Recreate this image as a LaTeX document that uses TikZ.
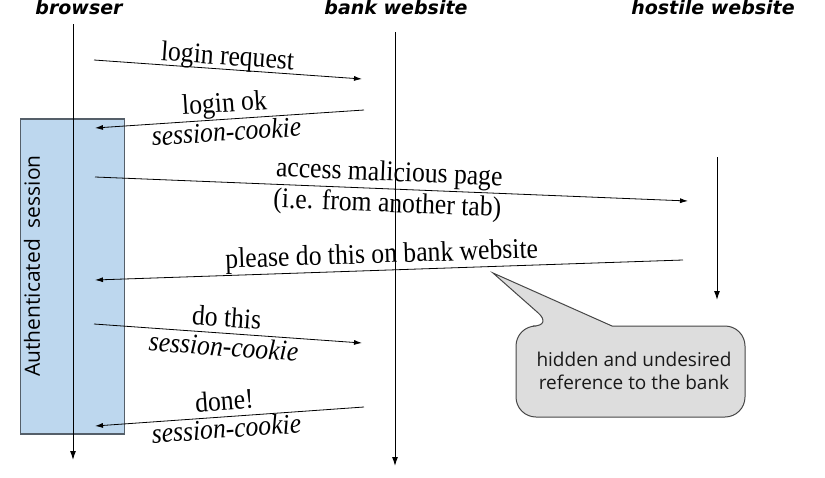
\documentclass[tikz,border=0pt]{standalone}
\usepackage{fontspec}
\setmainfont{Liberation Serif}
\newfontfamily\headfont{DejaVu Sans}
\newfontfamily\notefont{Open Sans}
\newfontfamily\msgfont[FakeStretch=0.9]{Liberation Serif}
\usetikzlibrary{arrows.meta}

\definecolor{sessionfill}{RGB}{189,215,238}
\definecolor{sessionedge}{RGB}{85,95,105}
\definecolor{notefill}{RGB}{221,221,221}
\definecolor{noteedge}{RGB}{70,70,70}

\begin{document}
\begin{tikzpicture}[x=1pt,y=-1pt,
  lifeline/.style={line width=1pt,-{Latex[length=9pt,width=6pt]}},
  msg/.style={line width=0.8pt,-{Latex[length=8pt,width=5pt]}},
  actor/.style={font={\headfont\bfseries\itshape\fontsize{19}{23}\selectfont},anchor=base,inner sep=0pt},
  lbl/.style={font={\msgfont\fontsize{28.5}{32}\selectfont},anchor=base,inner sep=0pt},
  lbli/.style={font={\msgfont\fontsize{28.5}{32}\selectfont\itshape},anchor=base,inner sep=0pt},
  sessionbox/.style={draw=sessionedge,line width=1.2pt,fill=sessionfill,inner sep=0pt,
    minimum width=104pt,minimum height=315pt},
  callout/.style={draw=noteedge,line width=1pt,fill=notefill},
  notetext/.style={font={\notefont\fontsize{19}{23.5}\selectfont},text=black!90,align=center,inner sep=0pt}]
\useasboundingbox (0,0) rectangle (825,477);

% authenticated session span on the browser side
\node[sessionbox] (auth) at (72.5,276.5) {};
\node[font={\notefont\fontsize{21}{24}\selectfont},rotate=90,inner sep=0pt] (authlbl) at (32,266) {Authenticated\ \ session};

% participants
\node[actor] (browser) at (79,14.5) {browser};
\node[actor] (bank) at (396,14.5) {bank website};
\node[actor] (hostile) at (713,14.5) {hostile website};

% lifelines
\coordinate (bt) at (73,24);   \coordinate (bb) at (73,460);
\coordinate (kt) at (395,32);  \coordinate (kb) at (395,466);
\coordinate (ht) at (717,157); \coordinate (hb) at (717,300);
\draw[lifeline] (bt) -- (bb);
\draw[lifeline] (kt) -- (kb);
\draw[lifeline] (ht) -- (hb);

% message end points
\coordinate (m1a) at (94,60);   \coordinate (m1b) at (362,79);
\coordinate (m2a) at (364,110); \coordinate (m2b) at (95,128);
\coordinate (m3a) at (95,177);  \coordinate (m3b) at (688,201);
\coordinate (m4a) at (683,260); \coordinate (m4b) at (95,280);
\coordinate (m5a) at (94,324);  \coordinate (m5b) at (362,343);
\coordinate (m6a) at (364,407); \coordinate (m6b) at (95,426);

\draw[msg] (m1a) -- (m1b);
\draw[msg] (m2a) -- (m2b);
\draw[msg] (m3a) -- (m3b);
\draw[msg] (m4a) -- (m4b);
\draw[msg] (m5a) -- (m5b);
\draw[msg] (m6a) -- (m6b);

% message labels
\node[lbl,rotate=-4.06] (t1) at (227,65) {login request};
\node[lbl,rotate=3.83] (t2) at (225,112) {login ok};
\node[lbli,rotate=3.83] (t2c) at (227,141) {session-cookie};
\node[lbl,rotate=-2.32] (t3) at (389,181) {access malicious page};
\node[lbl,rotate=-2.32] (t3b) at (387,212) {(i.e. from another tab)};
\node[lbl,rotate=1.95] (t4) at (382,263) {please do this on bank website};
\node[lbl,rotate=-4.05] (t5) at (226,327) {do this};
\node[lbli,rotate=-4.05] (t5c) at (223,356) {session-cookie};
\node[lbl,rotate=4.04] (t6) at (225,410) {done!};
\node[lbli,rotate=4.04] (t6c) at (227,438) {session-cookie};

% speech bubble pointing at the request
\draw[callout] (553,326) -- (493,273) -- (612,326) [rounded corners=20pt]
  -- (745,326) -- (745,417) -- (516,417) -- (516,326) -- cycle;
\node[notetext] (note) at (634,371) {hidden and undesired\\reference to the bank};
\end{tikzpicture}
\end{document}
